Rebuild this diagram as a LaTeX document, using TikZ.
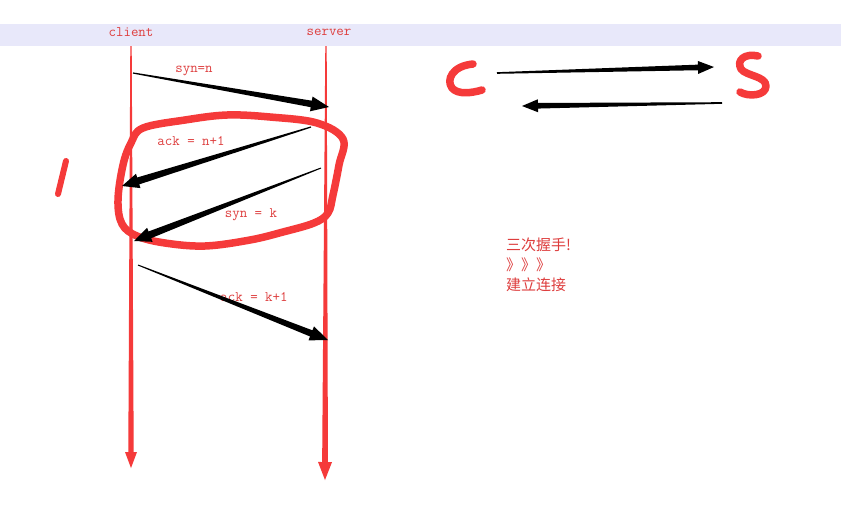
\documentclass[tikz,border=0pt]{standalone}
\usepackage{fontspec}
\usetikzlibrary{calc}
\newfontfamily\cjk{Noto Sans CJK SC}
\definecolor{band}{RGB}{232,232,250}
\definecolor{lblred}{RGB}{222,62,62}
\definecolor{penred}{RGB}{245,58,58}
\newcommand{\taparrow}[7]{%
  \coordinate (hb) at ($(#2)!#6!(#1)$);
  \fill[#7] ($(#1)!#3!90:(#2)$) -- ($(hb)!#4!90:(#2)$) -- ($(hb)!#5!90:(#2)$) -- (#2)
    -- ($(hb)!#5!-90:(#2)$) -- ($(hb)!#4!-90:(#2)$) -- ($(#1)!#3!-90:(#2)$) -- cycle;}
\begin{document}
\begin{tikzpicture}[x=1pt,y=-1pt,
  lbl/.style={text=lblred,font=\ttfamily\fontsize{14.5}{15}\selectfont,inner sep=0pt},
  cjklbl/.style={text=lblred,font=\cjk\fontsize{15}{16}\selectfont,inner sep=0pt,anchor=west},
  pen/.style={draw=penred,line width=7.5pt,line cap=round,line join=round}]
\useasboundingbox (0,0) rectangle (841,531);
\fill[white] (0,0) rectangle (841,531);
\fill[band] (0,24) rectangle (841,46);
\node[lbl] (client) at (131,32) {client};
\node[lbl] (server) at (329,32) {server};
% lifelines
\coordinate (ct) at (131,46); \coordinate (cb) at (131,468);
\coordinate (st) at (326,46); \coordinate (sb) at (325,480);
\taparrow{ct}{cb}{0.7pt}{2.7pt}{6pt}{16pt}{penred}
\taparrow{st}{sb}{0.7pt}{2.9pt}{7pt}{18pt}{penred}
% labels
\node[lbl] (l1) at (194,71) {syn=n};
\node[lbl] (l2) at (191,141) {ack = n+1};
\node[lbl] (l3) at (251,215) {syn = k};
\node[lbl] (l4) at (254,297) {ack = k+1};
% hand-drawn loop
\draw[pen] plot[smooth cycle,tension=0.6] coordinates {(143,128) (185,120) (227,115) (270,117) (317,123) (343,139) (339,165) (333,195) (328,213) (314,223) (283,232) (250,240) (205,246) (165,243) (137,236) (122,224) (118,200) (123,165) (131,143)};
% black arrows
\coordinate (a1) at (133,73); \coordinate (b1) at (329,107);
\coordinate (a2) at (311,127); \coordinate (b2) at (122,186);
\coordinate (a3) at (321,168); \coordinate (b3) at (134,241);
\coordinate (a4) at (138,265); \coordinate (b4) at (328,340);
\taparrow{a1}{b1}{0.6pt}{3.3pt}{7.5pt}{18pt}{black}
\taparrow{a2}{b2}{0.6pt}{3.6pt}{7.5pt}{17pt}{black}
\taparrow{a3}{b3}{0.5pt}{3.6pt}{7.5pt}{17pt}{black}
\taparrow{a4}{b4}{0.5pt}{3.3pt}{7.5pt}{18pt}{black}
% C and S
\draw[pen] (473,64) .. controls (452,66) and (446,80) .. (452,88) .. controls (458,95) and (472,93) .. (482,90);
\draw[pen] (758,56) .. controls (745,53) and (736,60) .. (741,69) .. controls (746,76) and (766,76) .. (766,86) .. controls (766,96) and (748,97) .. (740,92);
\coordinate (a5) at (497,73); \coordinate (b5) at (714,67);
\coordinate (a6) at (722,103); \coordinate (b6) at (522,106);
\taparrow{a5}{b5}{0.8pt}{2.8pt}{6.5pt}{16pt}{black}
\taparrow{a6}{b6}{0.8pt}{2.8pt}{6.5pt}{16pt}{black}
% stroke "1"
\draw[pen,line width=6pt] (66,161) -- (58,194);
% chinese text
\node[cjklbl] (t1) at (506,245) {三次握手!};
\node[cjklbl] (t2) at (506,265) {》》》};
\node[cjklbl] (t3) at (506,285) {建立连接};
\end{tikzpicture}
\end{document}
